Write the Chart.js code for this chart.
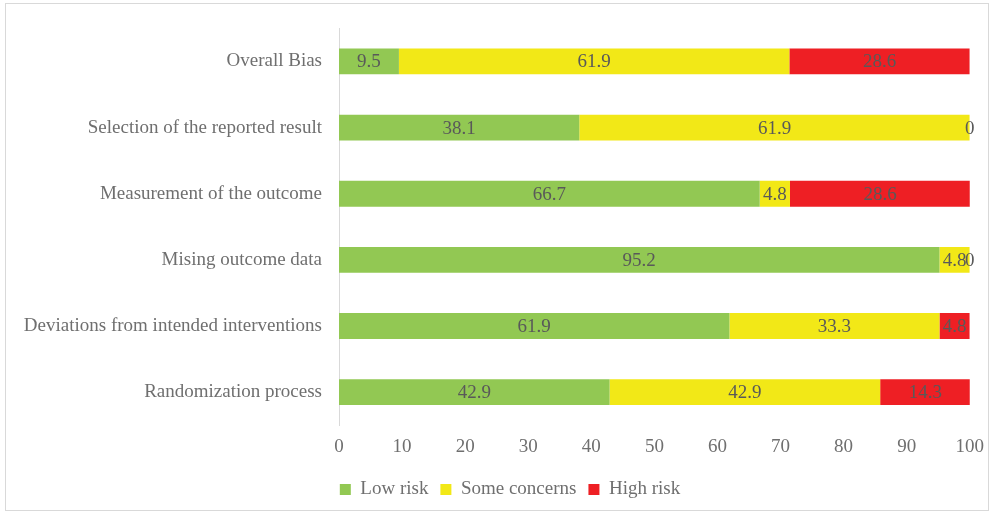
<!DOCTYPE html>
<html>
<head>
<meta charset="utf-8">
<script src="https://cdn.jsdelivr.net/npm/chart.js@4"></script>
<style>
  html,body{margin:0;padding:0;background:#fff;}
  #wrap{position:relative;width:994px;height:514px;}
  #frame{position:absolute;left:5px;top:3px;width:984px;height:508px;border:1px solid #d9d9d9;box-sizing:border-box;pointer-events:none;}
  canvas{position:absolute;left:0;top:0;}
</style>
</head>
<body>
<div id="wrap">
  <canvas id="c" width="994" height="514"></canvas>
  <div id="frame"></div>
</div>
<script>
const categories = [
  "Overall Bias",
  "Selection of the reported result",
  "Measurement of the outcome",
  "Mising outcome data",
  "Deviations from intended interventions",
  "Randomization process"
];
const lowRisk      = [9.5, 38.1, 66.7, 95.2, 61.9, 42.9];
const someConcerns = [61.9, 61.9, 4.8, 4.8, 33.3, 42.9];
const highRisk     = [28.6, 0, 28.6, 0, 4.8, 14.3];
const seriesNames  = ["Low risk", "Some concerns", "High risk"];
const xTicks = [0,10,20,30,40,50,60,70,80,90,100];

const FONT = "'Liberation Serif', 'Times New Roman', serif";
const TEXT = "#6f6f6f";
const LABEL = "#595959";

const valueLabels = {
  id: 'valueLabels',
  afterDatasetsDraw(chart) {
    const ctx = chart.ctx;
    ctx.save();
    ctx.font = "19px " + FONT;
    ctx.fillStyle = LABEL;
    ctx.textAlign = "center";
    ctx.textBaseline = "middle";
    chart.data.datasets.forEach((ds, di) => {
      const meta = chart.getDatasetMeta(di);
      meta.data.forEach((el, i) => {
        const p = el.getCenterPoint();
        ctx.fillText(String(ds.data[i]), p.x, p.y + 1);
      });
    });
    ctx.restore();
  }
};

const legendShift = {
  id: 'legendShift',
  afterLayout(chart) {
    if (chart.legend) { chart.legend.left += 19; chart.legend.right += 19; }
  }
};

new Chart(document.getElementById('c'), {
  type: 'bar',
  data: {
    labels: categories,
    datasets: [
      {label: seriesNames[0], data: lowRisk, backgroundColor: '#92C853'},
      {label: seriesNames[1], data: someConcerns, backgroundColor: '#F2E817'},
      {label: seriesNames[2], data: highRisk, backgroundColor: '#EE1F24'}
    ]
  },
  options: {
    indexAxis: 'y',
    responsive: false,
    animation: false,
    devicePixelRatio: 1,
    layout: {padding: {left: 0, right: 12, top: 27, bottom: 5}},
    datasets: {bar: {categoryPercentage: 1, barPercentage: 0.39, borderWidth: 0}},
    scales: {
      x: {
        stacked: true, min: 0, max: 100,
        afterBuildTicks(s){ s.ticks = xTicks.map(v => ({value: v})); },
        grid: {display: false, drawTicks: false},
        border: {display: false},
        ticks: {color: TEXT, font: {family: FONT, size: 19}, padding: 10}
      },
      y: {
        stacked: true,
        grid: {display: false, drawTicks: false},
        border: {display: true, color: '#d9d9d9', width: 1},
        ticks: {color: TEXT, font: {family: FONT, size: 19}, padding: 17},
        afterFit(s){ s.width = 339; }
      }
    },
    plugins: {
      legend: {
        position: 'bottom',
        labels: {
          color: TEXT, font: {family: FONT, size: 19},
          boxWidth: 11, boxHeight: 11, padding: 12
        }
      },
      tooltip: {enabled: false}
    }
  },
  plugins: [valueLabels, legendShift]
});
</script>
</body>
</html>
